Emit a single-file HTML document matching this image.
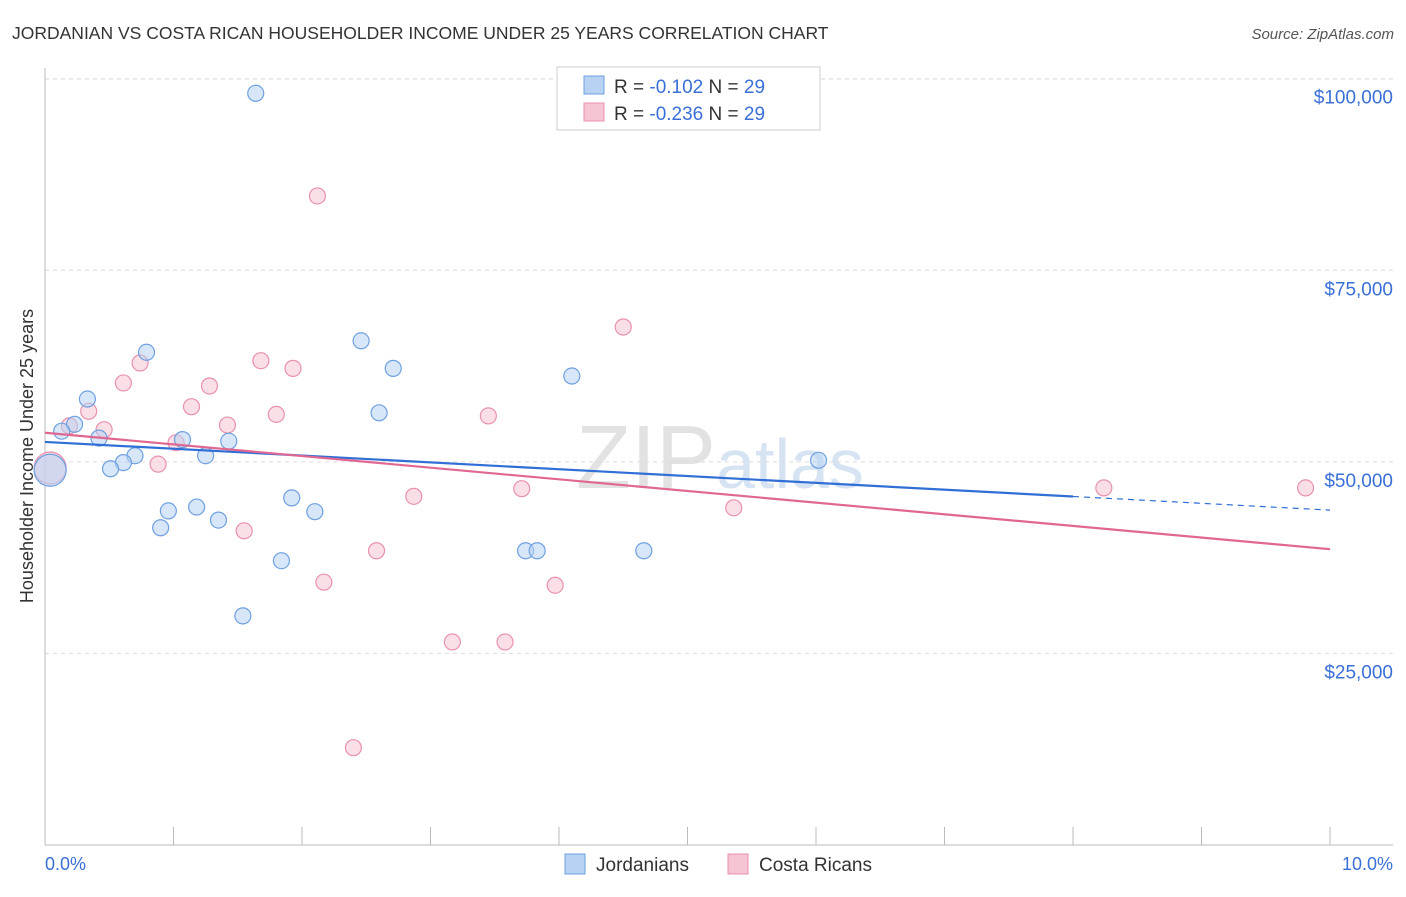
<!DOCTYPE html>
<html><head><meta charset="utf-8"><style>
body{margin:0;background:#fff;font-family:"Liberation Sans",sans-serif;}
svg text{font-family:"Liberation Sans",sans-serif;}
</style></head><body>
<svg id="chart" width="1406" height="892" xmlns="http://www.w3.org/2000/svg">
<text x="12" y="39" font-size="17.5" fill="#333">JORDANIAN VS COSTA RICAN HOUSEHOLDER INCOME UNDER 25 YEARS CORRELATION CHART</text>
<text x="1394" y="39" font-size="15" fill="#555" text-anchor="end" font-style="italic">Source: ZipAtlas.com</text>
<text x="720" y="488" font-size="90" fill="#e6e9ee" text-anchor="middle" font-family="Liberation Serif"><tspan fill="#e2e2e2">ZIP</tspan><tspan fill="#d6e3f3" font-family="Liberation Sans" font-size="70">atlas</tspan></text>
<g id="grid"></g>
<g id="axes"></g>
<text transform="translate(33,456) rotate(-90)" font-size="18" fill="#333" text-anchor="middle">Householder Income Under 25 years</text>
<g id="marks"></g>
<g>
<rect x="557" y="67" width="263" height="63" fill="#fff" stroke="#ccc"/>
<rect x="584" y="76" width="20" height="18" fill="#b7d2f3" stroke="#6fa0e0"/>
<rect x="584" y="103" width="20" height="18" fill="#f7c4d4" stroke="#e891ad"/>
<text x="614" y="93" font-size="19" fill="#333">R = <tspan fill="#3a6fd8">-0.102</tspan>   N = <tspan fill="#3a6fd8">29</tspan></text>
<text x="614" y="120" font-size="19" fill="#333">R = <tspan fill="#3a6fd8">-0.236</tspan>   N = <tspan fill="#3a6fd8">29</tspan></text>
</g>
<g>
<rect x="565" y="854" width="20" height="20" fill="#b7d2f3" stroke="#6fa0e0"/>
<text x="596" y="871" font-size="19" fill="#333">Jordanians</text>
<rect x="728" y="854" width="20" height="20" fill="#f7c4d4" stroke="#e891ad"/>
<text x="759" y="871" font-size="19" fill="#333">Costa Ricans</text>
</g>
<text x="45" y="870" font-size="18" fill="#3a6fd8">0.0%</text>
<text x="1393" y="870" font-size="18" fill="#3a6fd8" text-anchor="end">10.0%</text>
</svg>
<script>
const yTicks=[25000,50000,75000,100000];
const yTickLabels=["$25,000","$50,000","$75,000","$100,000"];
const xTicks=[0,1,2,3,4,5,6,7,8,9,10];
const blueX=[1.64,0.79,2.46,2.71,4.10,0.33,2.60,0.23,0.13,0.42,1.07,1.43,0.70,1.25,0.61,0.51,6.02,1.92,1.18,0.96,2.10,1.35,0.90,3.74,3.83,4.66,1.84,1.54,0.04];
const blueY=[98100,64300,65800,62200,61200,58200,56400,54900,54000,53100,52900,52700,50800,50800,49900,49100,50200,45300,44100,43600,43500,42400,41400,38400,38400,38400,37100,29900,48900];
const pinkX=[2.12,4.50,0.74,1.68,1.93,0.61,1.28,1.14,0.34,1.80,3.45,1.42,0.19,0.46,1.02,0.88,2.87,3.71,8.24,9.81,5.36,1.55,2.58,2.17,3.97,3.17,3.58,2.40,0.04];
const pinkY=[84700,67600,62900,63200,62200,60300,59900,57200,56600,56200,56000,54800,54700,54200,52500,49700,45500,46500,46600,46600,44000,41000,38400,34300,33900,26500,26500,12700,49200];
const blueTrend=[52600,43700];
const pinkTrend=[53800,38600];
const blueSolidEnd=8;
const X=v=>45+v*128.5;
const Y=v=>845-v/130.5;
const NS="http://www.w3.org/2000/svg";
function mk(tag,attrs,parent){const e=document.createElementNS(NS,tag);for(const k in attrs)e.setAttribute(k,attrs[k]);parent.appendChild(e);return e;}
const grid=document.getElementById('grid'),axes=document.getElementById('axes'),marks=document.getElementById('marks');
yTicks.forEach((t,i)=>{
 const l=mk('line',{x1:45,x2:1393,y1:Y(t),y2:Y(t),stroke:'#ddd','stroke-dasharray':'4,4'},grid);
 
 
 const tx=mk('text',{x:1393,y:Y(t)+25,'font-size':19,fill:'#3a6fd8','text-anchor':'end'},grid);
 tx.textContent=yTickLabels[i];
 
 
});
const tl=mk('line',{x1:45,x2:1393,y1:79,y2:79,stroke:'#ddd','stroke-dasharray':'4,4'},grid);


const ax=mk('line',{x1:45,x2:1393,y1:845,y2:845,stroke:'#bbb'},axes);


const ay=mk('line',{x1:45,x2:45,y1:68,y2:845,stroke:'#bbb'},axes);


xTicks.forEach(t=>{
 const l=mk('line',{x1:X(t),x2:X(t),y1:827,y2:845,stroke:'#bbb'},axes);
 
 
});
function pts(xs,ys,fill,stroke,name){
 xs.forEach((x,i)=>{
  const big=(x<0.1);
  const c=mk('circle',{cx:X(x),cy:Y(ys[i]),r:big?16:8,fill:fill,'fill-opacity':big?0.6:0.55,stroke:stroke,'stroke-width':1.2},marks);
  
  
 });
}
pts(pinkX,pinkY,'#f7c4d4','#e891ad','costa-rican-point');
pts(blueX,blueY,'#b7d2f3','#6fa0e0','jordanian-point');
const bs=blueTrend[0]+(blueTrend[1]-blueTrend[0])*blueSolidEnd/10;
const b1=mk('line',{x1:X(0),y1:Y(blueTrend[0]),x2:X(blueSolidEnd),y2:Y(bs),stroke:'#2f6fd6','stroke-width':2.2},marks);


const b2=mk('line',{x1:X(blueSolidEnd),y1:Y(bs),x2:X(10),y2:Y(blueTrend[1]),stroke:'#2f6fd6','stroke-width':1.2,'stroke-dasharray':'6,5'},marks);


const p1=mk('line',{x1:X(0),y1:Y(pinkTrend[0]),x2:X(10),y2:Y(pinkTrend[1]),stroke:'#e06792','stroke-width':2.2},marks);


</script>
</body></html>
